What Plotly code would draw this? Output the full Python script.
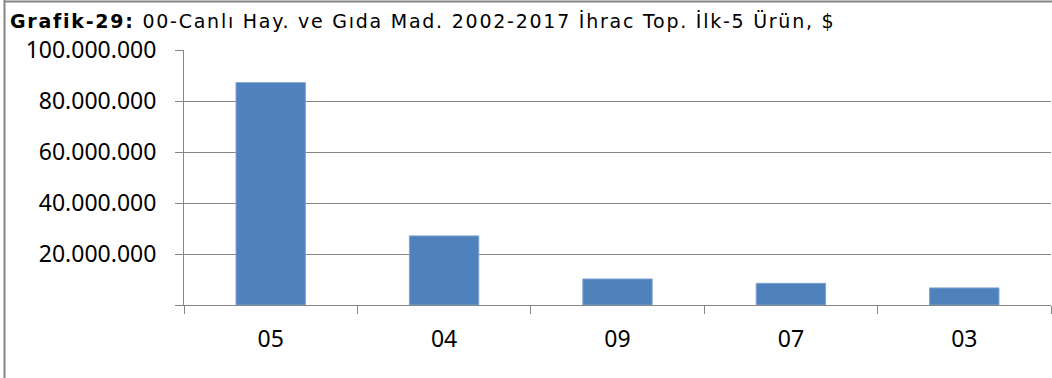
import plotly.graph_objects as go

# Top-5 export products (HS chapters), 2002-2017 totals in USD
categories = ["05", "04", "09", "07", "03"]
values = [87200000, 27100000, 10200000, 8500000, 6700000]

y_tickvals = [0, 20000000, 40000000, 60000000, 80000000, 100000000]
y_ticktext = ["", "20.000.000", "40.000.000", "60.000.000", "80.000.000", "100.000.000"]

title_bold = "Grafik-29:"
title_rest = " 00-Canlı Hay. ve Gıda Mad. 2002-2017 İhrac Top. İlk-5 Ürün, $"

W, H = 1052, 378
L, R, T, B = 184, 1, 50, 73
pw = W - L - R
ph = H - T - B

grey = "#868686"
label_font = dict(family="Noto Sans", size=23, color="#000000")

fig = go.Figure(
    go.Bar(
        x=categories,
        y=values,
        marker=dict(color="#4F81BD", line=dict(color="#7FA3D0", width=1)),
        width=0.4,
    )
)

fig.update_layout(
    width=W,
    height=H,
    margin=dict(l=L, r=R, t=T, b=B),
    paper_bgcolor="white",
    plot_bgcolor="white",
    showlegend=False,
    bargap=0.6,
)

fig.update_xaxes(
    type="category",
    showline=True,
    linecolor=grey,
    linewidth=1,
    ticks="outside",
    tickson="boundaries",
    ticklen=8,
    tickcolor=grey,
    tickfont=label_font,
    ticklabelstandoff=13,
    showgrid=False,
)

fig.update_yaxes(
    range=[0, 100000000],
    tickvals=y_tickvals,
    ticktext=y_ticktext,
    showline=True,
    linecolor=grey,
    linewidth=1,
    ticks="outside",
    ticklen=8,
    tickcolor=grey,
    tickfont=label_font,
    ticklabelstandoff=14,
    showgrid=True,
    gridcolor=grey,
    gridwidth=1,
    zeroline=False,
)

# chart title
fig.add_annotation(
    text=(f"<span style='letter-spacing:1.75px'><b>{title_bold}</b>"
          f"{title_rest}</span>"),
    xref="paper", yref="paper",
    x=(8 - L) / pw, y=1 + (T - 21) / ph,
    xanchor="left", yanchor="middle",
    showarrow=False,
    font=dict(family="DejaVu Sans", size=19, color="#000000"),
)

# outer frame (left and top edges)
fig.add_shape(type="line", xref="paper", yref="paper",
              x0=(4.5 - L) / pw, x1=(4.5 - L) / pw,
              y0=-B / ph, y1=1 + T / ph,
              line=dict(color=grey, width=2))
fig.add_shape(type="line", xref="paper", yref="paper",
              x0=(4.5 - L) / pw, x1=1 + R / pw,
              y0=1 + (T - 1.5) / ph, y1=1 + (T - 1.5) / ph,
              line=dict(color=grey, width=2))

fig.write_html("out.html")
